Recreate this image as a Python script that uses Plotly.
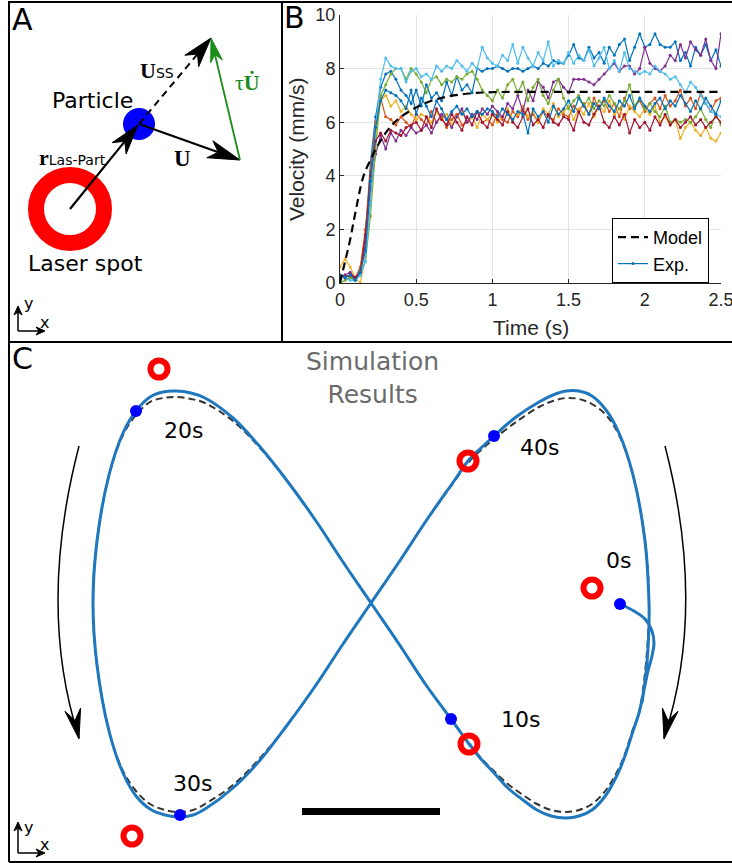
import math
import plotly.graph_objects as go

# ---------------- Panel B: velocity data (mm/s), sampled every 1/30 s ----------------
DT = 1.0 / 30.0
vel_exp1 = [0.2, 0.3, 0.2, 0.1, 0.5,
            1.7, 4.5, 6.2, 7.3, 7.8,
            7.9, 7.6, 7.2, 7.0, 6.7, 7.2, 6.6, 7.4, 6.9, 7.1,
            6.8, 7.5, 7.0, 7.7, 7.2, 7.4, 7.1, 8.0, 7.9, 8.0,
            8.0, 8.1, 8.0, 7.9, 8.0, 8.0, 7.9, 8.0, 8.1, 8.0,
            8.2, 8.1, 8.3, 8.2, 8.2, 8.5, 8.9, 8.4, 8.3, 8.8,
            8.4, 8.6, 8.2, 8.8, 8.5, 8.9, 9.1, 8.3, 8.8, 9.3,
            8.8, 8.9, 9.3, 8.9, 8.8, 8.8, 9.0, 8.3, 8.6, 8.1,
            8.8, 8.5, 8.9, 8.3, 8.7, 8.1]
vel_exp2 = [0.2, 0.3, 0.2, 0.2, 0.6,
            2.0, 4.2, 6.0, 6.9, 6.2,
            6.1, 5.9, 6.2, 6.0, 5.8, 6.3, 6.1, 5.9, 6.4, 6.0,
            6.2, 5.8, 6.1, 6.3, 5.9, 6.0, 6.2, 6.4, 6.0, 6.1,
            5.9, 6.3, 6.1, 6.0, 6.4, 6.2, 6.5, 6.1, 6.3, 6.0,
            6.4, 6.2, 6.1, 6.5, 6.3, 6.2, 6.6, 6.4, 6.7, 6.3,
            6.9, 6.5, 6.8, 6.4, 6.7, 6.2, 6.9, 6.5, 6.6, 6.8,
            6.4, 6.7, 6.9, 6.5, 7.0, 6.6, 6.8, 7.2, 6.6, 6.9,
            6.5, 7.1, 6.7, 6.4, 6.8, 6.9]
vel_exp3 = [0.6, 0.9, 0.6, 0.2, 0.0,
            1.0, 3.2, 5.5, 6.8, 7.0,
            6.6, 6.8, 6.4, 6.6, 6.3, 6.1, 6.3, 6.2, 6.0, 6.4,
            6.1, 6.3, 5.9, 6.2, 6.4, 6.0, 6.2, 5.8, 6.3, 6.1,
            6.3, 6.0, 6.2, 6.5, 6.1, 6.3, 6.6, 6.2, 6.4, 6.0,
            6.5, 6.3, 6.7, 6.2, 6.4, 6.6, 6.1, 6.5, 6.3, 6.7,
            6.2, 6.6, 6.4, 6.8, 6.3, 6.5, 6.1, 6.6, 6.4, 6.2,
            6.5, 6.3, 6.6, 6.0, 6.2, 5.9, 6.1, 5.4, 5.8, 6.0,
            5.7, 5.5, 5.8, 5.4, 5.3, 5.6]
vel_exp4 = [0.2, 0.3, 0.4, 0.2, 0.3,
            1.5, 3.5, 4.8, 5.5, 5.0,
            5.6, 5.3, 5.7, 5.5, 5.8, 5.6, 5.7, 5.9, 5.6, 6.0,
            6.3, 6.1, 5.8, 6.2, 6.5, 6.0, 6.3, 6.1, 6.5, 6.3,
            6.6, 6.4, 6.2, 6.7, 6.5, 7.0, 6.4, 7.2, 6.8, 7.5,
            7.3, 6.9, 7.5, 7.6, 7.3, 7.1, 7.6, 7.6, 7.6, 7.5,
            7.4, 7.6, 7.8, 8.0, 8.2, 7.9, 8.1, 8.1, 7.8, 8.0,
            8.8, 8.2, 8.0, 7.9, 8.1, 8.5, 8.3, 8.9, 8.4, 9.0,
            8.7, 8.5, 9.1, 8.3, 8.0, 9.3]
vel_exp5 = [0.0, 0.1, 0.2, 0.1, 0.3,
            0.8, 2.5, 5.0, 7.0, 7.4,
            7.8, 8.0, 8.0, 7.6, 8.0, 7.8, 7.5, 7.1, 7.6, 7.7,
            7.4, 7.6, 7.5, 7.7, 7.6, 7.8, 7.9, 7.6, 7.2, 7.0,
            6.8, 7.2, 6.9, 7.4, 7.6, 7.1, 7.5, 6.8, 7.3, 7.6,
            7.0, 6.7, 7.2, 7.6, 6.9, 6.5, 6.8, 7.0, 6.6, 6.9,
            6.5, 6.8, 6.6, 7.0, 6.7, 6.5, 6.8, 7.4, 6.6, 6.9,
            6.5, 6.7, 6.4, 6.2, 6.6, 6.0, 6.1, 6.0, 6.1, 6.0,
            6.2, 6.5, 6.1, 5.8, 6.3, 5.9]
vel_exp6 = [0.3, 0.2, 0.1, 0.1, 0.3,
            0.8, 3.0, 5.8, 7.6, 8.4,
            8.1, 8.0, 8.0, 7.5, 7.9, 8.0, 7.7, 7.8, 7.6, 8.1,
            7.9, 8.1, 8.0, 8.3, 8.1, 7.9, 8.2, 8.0, 8.8, 8.4,
            8.2, 8.1, 8.5, 8.3, 8.9, 8.2, 8.8, 8.4, 8.1, 8.6,
            8.3, 9.0, 8.1, 8.3, 8.2, 8.6, 8.2, 8.5, 8.3, 8.7,
            8.1, 8.4, 8.8, 8.0, 8.3, 7.9, 8.6, 8.0, 7.9, 7.8,
            7.9, 7.8, 8.1, 7.9, 7.8, 7.6, 7.7, 7.4, 7.1, 7.5,
            7.3, 7.0, 6.7, 6.4, 6.3, 6.2]
vel_exp7 = [0.3, 0.2, 0.3, 0.2, 0.4,
            1.8, 4.0, 5.3, 5.6, 5.3,
            5.7, 5.6, 5.5, 5.8, 5.9, 6.0, 5.7, 6.2, 5.8, 6.5,
            6.1, 5.9, 6.3, 6.0, 5.7, 6.2, 5.9, 6.4, 6.0, 5.8,
            6.3, 6.1, 5.9, 6.4, 6.0, 5.8, 6.2, 6.5, 5.9, 6.1,
            5.8, 6.3, 6.0, 5.9, 6.2, 6.1, 5.7, 6.4, 6.0, 5.9,
            6.3, 6.6, 6.0, 5.8, 6.2, 5.9, 6.3, 5.6, 6.1, 5.8,
            6.0, 5.7, 6.2, 5.9, 6.3, 5.9, 6.1, 5.8, 6.0, 6.2,
            5.9, 6.1, 5.8, 6.0, 6.2, 6.0]
vel_exp8 = [0.3, 0.2, 0.3, 0.1, 0.4,
            1.2, 3.8, 5.8, 6.8, 7.2,
            7.1, 7.0, 6.8, 6.5, 7.2, 6.3, 6.9, 6.6, 6.2, 6.8,
            6.5, 6.1, 6.4, 6.6, 6.3, 6.5, 6.2, 6.4, 6.3, 6.5,
            6.4, 6.2, 6.5, 6.3, 6.1, 6.4, 6.3, 5.6, 6.5, 6.2,
            6.4, 6.0, 6.6, 6.3, 6.5, 6.8, 6.4, 6.9, 6.6, 6.3,
            6.7, 6.5, 6.9, 6.6, 6.4, 6.8, 6.6, 7.0, 6.5, 6.9,
            6.6, 6.4, 6.7, 6.9, 6.5, 6.8, 6.6, 7.0, 6.7, 6.4,
            6.8, 6.5, 6.9, 6.6, 6.3, 6.8]
exp_series = [vel_exp1, vel_exp2, vel_exp3, vel_exp4, vel_exp5, vel_exp6, vel_exp7, vel_exp8]
exp_colors = ['#0072BD', '#D95319', '#EDB120', '#7E2F8E', '#77AC30', '#4DBEEE', '#A2142F', '#0072BD']
time_s = [i * DT for i in range(len(vel_exp1))]

model_t = [0.0, 0.033, 0.066, 0.1, 0.153, 0.2, 0.25, 0.3, 0.35, 0.4, 0.5, 0.6, 0.7, 0.85, 1.0, 1.5, 2.0, 2.5]
model_v = [0.0, 0.8, 1.6, 2.6, 3.97, 4.6, 5.15, 5.6, 5.95, 6.2, 6.55, 6.8, 6.95, 7.07, 7.12, 7.13, 7.13, 7.13]

x_ticks = [0, 0.5, 1, 1.5, 2, 2.5]
x_tick_labels = ['0', '0.5', '1', '1.5', '2', '2.5']
y_ticks = [0, 2, 4, 6, 8, 10]
y_tick_labels = ['0', '2', '4', '6', '8', '10']

# ---------------- Panel C: trajectories (units relative to the crossing point, y up) ----------------
sim_x = [249, 263, 274, 281, 283, 281, 277, 273, 268,
         262, 255, 248, 235, 221, 208, 195, 180, 166, 152, 138, 124, 110, 98, 80, 55, 28, 0,
         -28, -55, -83, -110, -138, -166, -180, -195, -208, -221, -235, -248, -262, -274, -278,
         -274, -262, -248, -235, -221, -206, -191, -178, -166, -138, -110, -83, -55, -28, 0,
         28, 55, 83, 97, 110, 123, 145, 168, 182, 195, 208, 221, 235, 248, 262, 274, 278,
         278, 277, 275, 271]
sim_y = [-1, -8, -16, -28, -40, -53, -68, -87, -110,
         -128, -150, -168, -192, -207, -213, -215, -213, -207, -197, -186, -171, -156, -141, -116, -82, -41, 0,
         41, 82, 121, 155, 185, 205, 210, 212, 211, 206, 192, 170, 128, 62, 0,
         -62, -128, -170, -193, -206, -212, -214, -212, -206, -185, -156, -121, -82, -41, 0,
         41, 82, 122, 142, 155, 167, 186, 201, 208, 212, 212, 207, 193, 170, 128, 62, 0,
         -22, -45, -70, -100]

target_x = [278, 275, 268, 262, 255, 248, 235, 221, 208, 195, 180, 166, 152, 138, 124, 110, 98, 80, 55, 28, 0,
            -28, -55, -83, -110, -138, -166, -180, -195, -208, -221, -235, -248, -262, -274, -278,
            -274, -262, -248, -235, -221, -206, -191, -178, -166, -138, -110, -83, -55, -28, 0,
            28, 55, 83, 97, 110, 123, 145, 168, 182, 195, 208, 221, 235, 248, 262, 274, 278]
target_y = [0, -60, -110, -126, -148, -165, -187, -201, -207, -209, -207, -201, -192, -182, -169, -155, -140, -116, -82, -41, 0,
            41, 82, 121, 154, 182, 200, 204, 206, 205, 201, 188, 168, 128, 62, 0,
            -62, -128, -168, -188, -201, -207, -209, -207, -201, -182, -154, -121, -82, -41, 0,
            41, 82, 121, 140, 153, 164, 181, 196, 202, 205, 204, 199, 188, 168, 128, 62, 0]

mark_labels = ['0s', '10s', '20s', '30s', '40s']
particle_x = [249, 80, -235, -191, 123]
particle_y = [-1, -116, 192, -212, 167]
laser_x = [221, 98, -212, -239, 97]
laser_y = [15, -141, 234, -233, 142]
label_x = [247, 149, -188, -179, 168]
label_y = [43, -116, 173, -180, 156]

W_FIG, H_FIG = 732, 863

fig = go.Figure()

# ---- Panel B traces ----
for i, (vals, col) in enumerate(zip(exp_series, exp_colors)):
    fig.add_trace(go.Scatter(
        x=time_s, y=vals, mode='lines+markers', name='Exp.',
        line=dict(color=col, width=1.2), marker=dict(size=3, color=col),
        showlegend=(i == 0), legendrank=2, xaxis='x', yaxis='y', hoverinfo='skip'))
fig.add_trace(go.Scatter(
    x=model_t, y=model_v, mode='lines', name='Model',
    line=dict(color='black', width=2.2, dash='8px,5px', shape='spline'),
    legendrank=1, xaxis='x', yaxis='y', hoverinfo='skip'))

# dummy trace to create the pixel overlay axes
fig.add_trace(go.Scatter(x=[None], y=[None], xaxis='x2', yaxis='y2', showlegend=False, hoverinfo='skip'))

# ---- Panel C traces ----
fig.add_trace(go.Scatter(
    x=target_x, y=target_y, mode='lines', xaxis='x3', yaxis='y3', showlegend=False,
    line=dict(color='#333333', width=2, dash='7px,4px', shape='spline'), hoverinfo='skip'))
fig.add_trace(go.Scatter(
    x=sim_x, y=sim_y, mode='lines', xaxis='x3', yaxis='y3', showlegend=False,
    line=dict(color='#1f78be', width=3, shape='spline', smoothing=1), hoverinfo='skip'))
fig.add_trace(go.Scatter(
    x=laser_x, y=laser_y, mode='markers', xaxis='x3', yaxis='y3', showlegend=False,
    marker=dict(symbol='circle-open', size=17, color='#ff0000', line=dict(width=6, color='#ff0000')),
    hoverinfo='skip'))
fig.add_trace(go.Scatter(
    x=particle_x, y=particle_y, mode='markers', xaxis='x3', yaxis='y3', showlegend=False,
    marker=dict(symbol='circle', size=12, color='#0000ff'), hoverinfo='skip'))

shapes = []
annotations = []


def px_line(x0, y0, x1, y1, color='black', width=2, dash=None):
    ln = dict(color=color, width=width)
    if dash:
        ln['dash'] = dash
    return dict(type='line', xref='x2', yref='y2', x0=x0, y0=y0, x1=x1, y1=y1, line=ln, layer='above')


def head_path(frm, tip, L, Wd, N):
    dx, dy = tip[0] - frm[0], tip[1] - frm[1]
    d = math.hypot(dx, dy)
    ux, uy = dx / d, dy / d
    nx, ny = -uy, ux
    bx, by = tip[0] - L * ux, tip[1] - L * uy
    p1 = (bx + Wd * nx, by + Wd * ny)
    p2 = (tip[0] - (L - N) * ux, tip[1] - (L - N) * uy)
    p3 = (bx - Wd * nx, by - Wd * ny)
    path = 'M{:.2f},{:.2f} L{:.2f},{:.2f} L{:.2f},{:.2f} L{:.2f},{:.2f} Z'.format(
        tip[0], tip[1], p1[0], p1[1], p2[0], p2[1], p3[0], p3[1])
    return path, p2


def arrow(frm, tip, L, Wd, N, color='black', width=2, dash=None, shaft_end=None):
    path, notch = head_path(frm, tip, L, Wd, N)
    end = shaft_end if shaft_end is not None else notch
    shapes.append(px_line(frm[0], frm[1], end[0], end[1], color, width, dash))
    shapes.append(dict(type='path', xref='x2', yref='y2', path=path, fillcolor=color,
                       line=dict(color=color, width=1), layer='above'))


# ---- Panel borders ----
shapes.append(px_line(8, 2, 732, 2, width=2))
shapes.append(px_line(9, 2, 9, 862, width=2))
shapes.append(px_line(9, 862, 732, 862, width=2))
shapes.append(px_line(9, 342, 732, 342, width=2))
shapes.append(px_line(282, 2, 282, 342, width=2))

# ---- Panel A diagram ----
laser_c = (70, 209)
part_c = (139, 124)
shapes.append(dict(type='circle', xref='x2', yref='y2', x0=laser_c[0] - 34, x1=laser_c[0] + 34,
                   y0=laser_c[1] - 34, y1=laser_c[1] + 34, line=dict(color='#ff0000', width=16),
                   fillcolor='rgba(0,0,0,0)', layer='above'))
shapes.append(dict(type='circle', xref='x2', yref='y2', x0=part_c[0] - 16, x1=part_c[0] + 16,
                   y0=part_c[1] - 16, y1=part_c[1] + 16, line=dict(color='#0000ff', width=0),
                   fillcolor='#0000ff', layer='above'))
arrow(laser_c, (138, 125), 30, 9, 9, width=2.2)
arrow(part_c, (240, 160), 32, 9, 9, width=2.2)
arrow(part_c, (211, 38), 30, 9, 9, width=2, dash='7px,5px')
arrow((240, 160), (211, 38), 24, 6, 7, color='#1a8c1a', width=1.8)
# axis icon panel A
arrow((18, 331), (18, 306), 9, 4, 3, width=1.5)
arrow((18, 331), (45, 331), 9, 4, 3, width=1.5)

# ---- Panel C decorations ----
shapes.append(dict(type='path', xref='x2', yref='y2', path='M79,446 Q37,608 79,738',
                   line=dict(color='black', width=1.5), fillcolor='rgba(0,0,0,0)', layer='above'))
shapes.append(dict(type='path', xref='x2', yref='y2', path='M665,446 Q707,608 664,738',
                   line=dict(color='black', width=1.5), fillcolor='rgba(0,0,0,0)', layer='above'))
p, _ = head_path((72, 706), (79, 739), 30, 8, 11)
shapes.append(dict(type='path', xref='x2', yref='y2', path=p, fillcolor='black', line=dict(color='black', width=1), layer='above'))
p, _ = head_path((671, 706), (664, 739), 30, 8, 11)
shapes.append(dict(type='path', xref='x2', yref='y2', path=p, fillcolor='black', line=dict(color='black', width=1), layer='above'))
# scale bar
shapes.append(px_line(302, 811.5, 440, 811.5, width=7))
# axis icon panel C
arrow((18, 853), (18, 822), 9, 4, 3, width=1.5)
arrow((18, 853), (45, 853), 9, 4, 3, width=1.5)


def px_text(x, y, text, size, color='black', family='DejaVu Sans', xanchor='center', yanchor='middle', angle=0):
    annotations.append(dict(xref='x2', yref='y2', x=x, y=y, text=text, showarrow=False,
                            xanchor=xanchor, yanchor=yanchor, textangle=angle,
                            font=dict(size=size, color=color, family=family)))


# panel letters
px_text(22.5, 19, 'A', 30)
px_text(294, 17, 'B', 30)
px_text(22, 358.5, 'C', 30)

# panel A labels
px_text(92, 100.5, 'Particle', 22)
px_text(85, 263, 'Laser spot', 22)
px_text(138, 70.5, "<b>U</b><span style='font-family:DejaVu Sans;font-size:14px;font-weight:normal'>SS</span>",
        22, family='Liberation Serif', xanchor='left')
px_text(233, 82, "\u03c4<b>U\u0307</b>", 22, color='#1a8c1a', family='Liberation Serif', xanchor='left')
px_text(182.5, 158.5, '<b>U</b>', 23, family='Liberation Serif')
px_text(37, 157, "<b>r</b><span style='font-family:DejaVu Sans;font-size:14px'>Las-Part</span>",
        22, family='Liberation Serif', xanchor='left')
px_text(28, 303, 'y', 16)
px_text(44, 322, 'x', 16)

# panel B axis titles
px_text(296, 149, 'Velocity (mm/s)', 21, color='#262626', family='Liberation Sans', angle=-90)
px_text(531, 327, 'Time (s)', 21, color='#262626', family='Liberation Sans')

# panel C texts
px_text(372, 377.5, 'Simulation<br>Results', 25, color='#6b6b6b')
px_text(28, 827, 'y', 16)
px_text(44, 844, 'x', 16)
for lab, lx, ly in zip(mark_labels, label_x, label_y):
    annotations.append(dict(xref='x3', yref='y3', x=lx, y=ly, text=lab, showarrow=False,
                            xanchor='center', yanchor='middle',
                            font=dict(size=22, color='black', family='DejaVu Sans')))

fig.update_layout(
    width=W_FIG, height=H_FIG, autosize=False,
    margin=dict(l=0, r=0, t=0, b=0, pad=0, autoexpand=False),
    paper_bgcolor='white', plot_bgcolor='rgba(0,0,0,0)',
    font=dict(family='DejaVu Sans', color='black'),
    showlegend=True,
    legend=dict(x=709 / W_FIG, y=1 - 218 / H_FIG, xanchor='right', yanchor='top',
                bgcolor='white', bordercolor='black', borderwidth=1,
                font=dict(family='Liberation Sans', size=18, color='black'),
                itemwidth=30, tracegroupgap=0),
    xaxis=dict(domain=[340 / W_FIG, 721 / W_FIG], range=[0, 2.5], anchor='y', automargin=False,
               tickvals=x_ticks, ticktext=x_tick_labels, ticks='inside', ticklen=4,
               tickcolor='#262626', showline=True, linecolor='#262626', linewidth=1,
               showgrid=True, gridcolor='#e3e3e3', gridwidth=1, zeroline=False,
               ticklabeloverflow='allow',
               tickfont=dict(family='Liberation Sans', size=18, color='#262626')),
    yaxis=dict(domain=[1 - 283 / H_FIG, 1 - 15 / H_FIG], range=[0, 10], anchor='x', automargin=False,
               tickvals=y_ticks, ticktext=y_tick_labels, ticks='inside', ticklen=4,
               tickcolor='#262626', showline=True, linecolor='#262626', linewidth=1,
               showgrid=True, gridcolor='#e3e3e3', gridwidth=1, zeroline=False,
               tickfont=dict(family='Liberation Sans', size=18, color='#262626')),
    xaxis2=dict(domain=[0, 1], range=[0, W_FIG], anchor='y2', visible=False, fixedrange=True, automargin=False),
    yaxis2=dict(domain=[0, 1], range=[H_FIG, 0], anchor='x2', visible=False, fixedrange=True, automargin=False),
    xaxis3=dict(domain=[0, 1], range=[-371, 361], anchor='y3', visible=False, fixedrange=True, automargin=False),
    yaxis3=dict(domain=[0, 1], range=[-260, 603], anchor='x3', visible=False, fixedrange=True, automargin=False),
    shapes=shapes,
    annotations=annotations,
)

page_css = ("var s=document.createElement('style');"
            "s.textContent='html,body{margin:0 !important;padding:0 !important;overflow:hidden !important;background:#ffffff;}';"
            "document.head.appendChild(s);window.scrollTo(0,0);")

fig.write_html('out.html',
               config={'displayModeBar': False, 'staticPlot': True},
               post_script=page_css)
